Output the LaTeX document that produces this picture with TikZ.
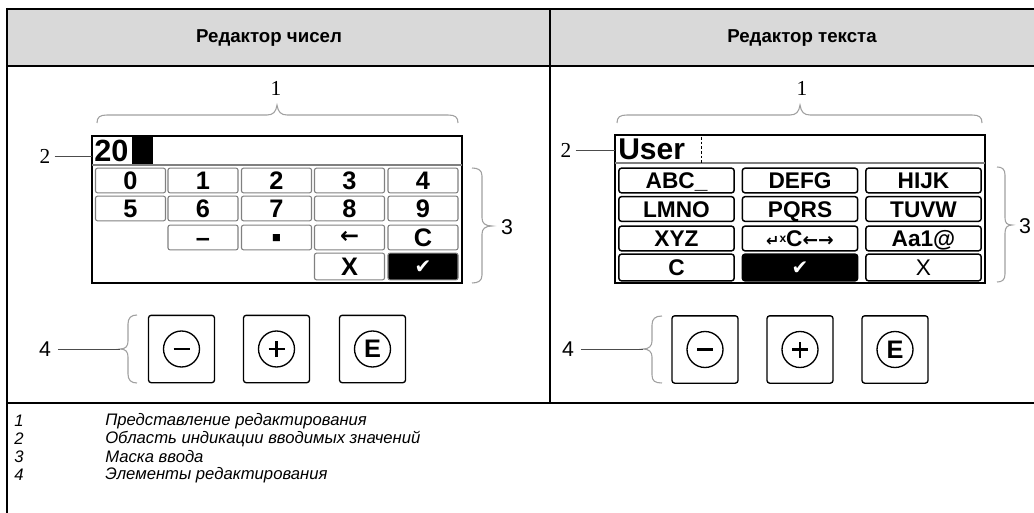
\documentclass[tikz,border=0pt]{standalone}
\usepackage{fontspec}
\setmainfont{Liberation Sans}
\newfontfamily\seriffam{Liberation Serif}
\newfontfamily\dvfam{DejaVu Sans}
\definecolor{hdrgray}{HTML}{D9D9D9}
\definecolor{keygray}{HTML}{808080}
\definecolor{bracegray}{HTML}{A0A0A0}
\newcommand\fsz[1]{\fontsize{#1}{#1}\selectfont}
\tikzset{
  tbl/.style={line width=2pt},
  hdr/.style={font=\bfseries\fsz{14}},
  nkey/.style={draw=keygray, line width=0.8pt, rounded corners=1.5pt, minimum width=52.5pt, minimum height=18.5pt, inner sep=0pt, text height=13.6pt, text depth=0pt, font=\bfseries\fsz{19}},
  tkey/.style={draw=black, line width=1.1pt, rounded corners=2pt, minimum width=86.5pt, minimum height=18.5pt, inner sep=0pt, text height=12.2pt, text depth=0pt, font=\bfseries\fsz{17}},
  okkey/.style={fill=black, text=white},
  ctl/.style={draw, line width=1pt, rounded corners=2pt, minimum width=49.5pt, minimum height=50.5pt, inner sep=0pt},
  circ/.style={circle, draw, line width=1pt, minimum size=27pt, inner sep=0pt},
  brc/.style={draw=bracegray, line width=0.8pt},
  lead/.style={draw=black!70, line width=0.6pt},
  lbls/.style={font=\seriffam\fsz{16}, inner sep=0pt},
  lbl/.style={font=\fsz{16}, inner sep=0pt},
  leg/.style={font=\itshape\fsz{12.5}, anchor=west, inner sep=0pt},
  box/.style={draw, line width=0.9pt}
}
\begin{document}
\begin{tikzpicture}[x=0.75pt,y=-0.75pt]
\useasboundingbox (0,0) rectangle (1034,513);
% table
\fill[hdrgray] (7,9) rectangle (1036,66);
\draw[tbl] (7,9) -- (1036,9);
\draw[tbl] (7,66) -- (1036,66);
\draw[tbl] (7,403) -- (1036,403);
\draw[tbl] (7,8) -- (7,514);
\draw[tbl] (550,9) -- (550,403);
\node[hdr] (h1) at (269,38) {Редактор чисел};
\node[hdr] (h2) at (802,38) {Редактор текста};

% ===== left: number editor =====
\node[lbls] (n1) at (276,88) {1};
\draw[brc] (97,123) .. controls (97,117) and (100,115) .. (107,115) -- (267,115) .. controls (273,115) and (276,112) .. (277,105) .. controls (278,112) and (281,115) .. (287,115) -- (448,115) .. controls (455,115) and (458,117) .. (458,123);
\node[box, minimum width=277.5pt, minimum height=110.25pt, inner sep=0pt] (nbox) at (277,209.5) {};
\draw[keygray, line width=1.2pt] (92,165) -- (462,165);
\node[font=\bfseries\fsz{23}, anchor=base west, inner sep=0pt] (nval) at (94,162) {20};
\fill (132,137) rectangle (153,164);
\node[lbls] (n2) at (45,156) {2};
\draw[lead] (n2.east) ++(4,0) -- (92,156);

\foreach \t [count=\i from 0] in {0,1,2,3,4}{
  \pgfmathsetmacro\cx{{130.5,203,276.5,349.5,423}[\i]}
  \node[nkey] (k\t) at (\cx,180.5) {\t};
}
\foreach \t [count=\i from 0] in {5,6,7,8,9}{
  \pgfmathsetmacro\cx{{130.5,203,276.5,349.5,423}[\i]}
  \node[nkey] (k\t) at (\cx,208.5) {\t};
}
\node[nkey] (kminus) at (203,237.5) {–};
\node[nkey, font=\dvfam\fsz{7}, text height=4pt] (kdot) at (276.5,237.5) {■};
\node[nkey, font=\dvfam\bfseries\fsz{17}, text height=9pt] (kback) at (349.5,237.5) {←};
\node[nkey] (kc) at (423,237.5) {C};
\node[nkey, minimum height=20pt] (kx) at (349.5,266.5) {X};
\node[nkey, okkey, minimum height=20pt, font=\dvfam\fsz{15}, text height=11pt] (kok) at (423,266.5) {✔};

\draw[brc] (472,168) .. controls (478,168) and (482,170) .. (482,176) -- (482,218) .. controls (482,223) and (485,226) .. (492,226) .. controls (485,226) and (482,229) .. (482,234) -- (482,275) .. controls (482,281) and (478,283) .. (472,283);
\node[lbl] (n3) at (507,227) {3};

% controls left
\node[ctl] (cm) at (181.5,349) {};
\node[ctl] (cp) at (276.5,349) {};
\node[ctl] (ce) at (372.5,349) {};
\node[circ] (cmc) at (cm.center) {};
\node[circ] (cpc) at (cp.center) {};
\node[circ, font=\bfseries\fsz{19}] (cec) at (ce.center) {E};
\draw[line width=2.2pt] ([xshift=-6pt]cmc.center) -- ([xshift=6pt]cmc.center);
\draw[line width=2.2pt] ([xshift=-6pt]cpc.center) -- ([xshift=6pt]cpc.center);
\draw[line width=2.2pt] ([yshift=-6pt]cpc.center) -- ([yshift=6pt]cpc.center);
\coordinate (b4l) at (120,349);
\draw[brc] (137,315) .. controls (131,315) and (128,318) .. (128,324) -- (128,341) .. controls (128,346) and (126,349) .. (b4l) .. controls (126,349) and (128,352) .. (128,357) -- (128,374) .. controls (128,380) and (131,383) .. (137,383);
\node[lbl] (n4) at (45,349) {4};
\draw[lead] ([xshift=5pt]n4.east) -- (b4l);

% ===== right: text editor =====
\node[lbls] (t1) at (802,88) {1};
\draw[brc] (617,123) .. controls (617,117) and (620,115) .. (627,115) -- (790,115) .. controls (796,115) and (799,112) .. (800,105) .. controls (801,112) and (804,115) .. (810,115) -- (972,115) .. controls (979,115) and (982,117) .. (982,123);
\node[box, minimum width=277.5pt, minimum height=111pt, inner sep=0pt] (tbox) at (800,209) {};
\draw[keygray, line width=1.2pt] (615,163) -- (985,163);
\node[font=\bfseries\fsz{22.5}, anchor=base west, inner sep=0pt] (tval) at (618,160) {User};
\draw[dashed, line width=0.6pt, dash pattern=on 2pt off 1.5pt] (701,137) -- (701,163);
\node[lbls] (t2) at (566,150) {2};
\draw[lead] (t2.east) ++(4,0) -- (615,150);

\node[tkey] (ta1) at (676.5,180.5) {ABC\_};
\node[tkey] (ta2) at (800,180.5) {DEFG};
\node[tkey] (ta3) at (923.5,180.5) {HIJK};
\node[tkey] (tb1) at (676.5,209) {LMNO};
\node[tkey] (tb2) at (800,209) {PQRS};
\node[tkey] (tb3) at (923.5,209) {TUVW};
\node[tkey] (tc1) at (676.5,238.5) {XYZ};
\node[tkey] (tc2) at (800,238.5) {{\dvfam\fsz{12}↵}\raisebox{3pt}{\fsz{9}x}C{\dvfam\fsz{14}←→}};
\node[tkey] (tc3) at (923.5,238.5) {Aa1@};
\node[tkey, minimum height=20pt] (td1) at (676.5,267.5) {C};
\node[tkey, okkey, minimum height=20pt, font=\dvfam\fsz{15}, text height=11pt] (td2) at (800,267.5) {✔};
\node[tkey, minimum height=20pt, font=\fsz{17}] (td3) at (923.5,267.5) {X};

\draw[brc] (997,167) .. controls (1002,167) and (1005,169) .. (1005,175) -- (1005,218) .. controls (1005,223) and (1007,225) .. (1012,225) .. controls (1007,225) and (1005,228) .. (1005,233) -- (1005,274) .. controls (1005,280) and (1002,282) .. (997,282);
\node[lbl] (t3) at (1025,226) {3};

% controls right
\node[ctl] (dm) at (705,349.5) {};
\node[ctl] (dp) at (800,349.5) {};
\node[ctl] (de) at (895,349.5) {};
\node[circ] (dmc) at (dm.center) {};
\node[circ] (dpc) at (dp.center) {};
\node[circ, font=\bfseries\fsz{19}] (dec) at (de.center) {E};
\draw[line width=2.2pt] ([xshift=-6pt]dmc.center) -- ([xshift=6pt]dmc.center);
\draw[line width=2.2pt] ([xshift=-6pt]dpc.center) -- ([xshift=6pt]dpc.center);
\draw[line width=2.2pt] ([yshift=-6pt]dpc.center) -- ([yshift=6pt]dpc.center);
\coordinate (b4r) at (643,349);
\draw[brc] (662,316) .. controls (655,316) and (652,319) .. (652,325) -- (652,341) .. controls (652,346) and (649,349) .. (b4r) .. controls (649,349) and (652,352) .. (652,357) -- (652,375) .. controls (652,381) and (655,383) .. (662,383);
\node[lbl] (t4) at (568,349) {4};
\draw[lead] ([xshift=5pt]t4.east) -- (b4r);

% ===== legend =====
\node[leg] (l1n) at (14,421) {1};
\node[leg] (l2n) at (14,439) {2};
\node[leg] (l3n) at (14,457) {3};
\node[leg] (l4n) at (14,475) {4};
\node[leg] (l1t) at (105,421) {Представление редактирования};
\node[leg] (l2t) at (105,439) {Область индикации вводимых значений};
\node[leg] (l3t) at (105,457) {Маска ввода};
\node[leg] (l4t) at (105,475) {Элементы редактирования};
\end{tikzpicture}
\end{document}
